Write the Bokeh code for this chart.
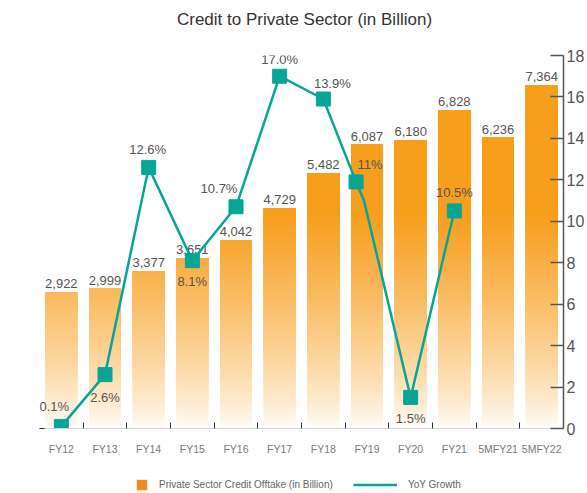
import math
from bokeh.plotting import figure
from bokeh.layouts import column
from bokeh.models import (Range1d, LinearAxis, FixedTicker, ColumnDataSource,
                          Legend, LegendItem)
from bokeh.embed import file_html
from bokeh.resources import INLINE
from bokeh.core.properties import value

# ---------------- data ----------------
title_text = "Credit to Private Sector (in Billion)"
categories = ["FY12", "FY13", "FY14", "FY15", "FY16", "FY17", "FY18", "FY19",
              "FY20", "FY21", "5MFY21", "5MFY22"]
credit = [2922, 2999, 3377, 3651, 4042, 4729, 5482, 6087, 6180, 6828, 6236, 7364]
credit_labels = ["2,922", "2,999", "3,377", "3,651", "4,042", "4,729", "5,482",
                 "6,087", "6,180", "6,828", "6,236", "7,364"]

yoy_categories = ["FY12", "FY13", "FY14", "FY15", "FY16", "FY17", "FY18", "FY19",
                  "FY20", "FY21"]
yoy_values = [0.1, 2.6, 12.6, 8.1, 10.7, 17.0, 15.9, 11.9, 1.5, 10.5]
yoy_labels = ["0.1%", "2.6%", "12.6%", "8.1%", "10.7%", "17.0%", "13.9%", "11%",
              "1.5%", "10.5%"]
yoy_shift = [0, 0, 0, 0, 0, 0, 0, -0.25, 0, 0]
# extra bend of the drawn line just after the FY19 point
bend_category = "FY19"
bend_shift = -0.07
bend_value = 11.0

legend_labels = ["Private Sector Credit Offtake (in Billion)", "YoY Growth"]

# ---------------- styles ----------------
FONT = "Liberation Sans"
ORANGE = (247, 158, 29)
LEGEND_ORANGE = "#F58A1F"
TEAL = "#07A595"
TXT = "#555555"
label_dx = [-7, 0, -1, 0, -17, 0, 9, 14, 0, 0]
label_dy = [-20, 23, -18, 21, -18, -17, -16, -17, 21, -18]

idx = {c: i for i, c in enumerate(categories)}


def shade(level):
    f = min(1.0, max(0.0, level / 4600.0)) ** 0.75
    r = round(255 + (ORANGE[0] - 255) * f)
    g = round(255 + (ORANGE[1] - 255) * f)
    b = round(255 + (ORANGE[2] - 255) * f)
    return "#%02x%02x%02x" % (r, g, b)


def strip(h):
    f = figure(width=587, height=h, x_range=Range1d(0, 1), y_range=Range1d(0, 1),
               output_backend="svg", toolbar_location=None,
               x_axis_location=None, y_axis_location=None,
               min_border_left=0, min_border_right=0, min_border_top=0,
               min_border_bottom=0)
    f.outline_line_color = None
    f.grid.visible = False
    return f


# ---------------- title strip ----------------
tf = strip(36)
tf.text(x=[0.5], y=[0.47], text=[title_text], x_offset=3,
        text_font=value(FONT), text_font_size=value("17px"), text_color="#333333",
        text_align="center", text_baseline="middle")

# ---------------- main plot ----------------
p = figure(width=587, height=429, x_range=Range1d(-0.5, 11.5),
           y_range=Range1d(0, 8000), output_backend="svg", toolbar_location=None,
           x_axis_location=None, y_axis_location=None,
           min_border_left=39, min_border_right=10, min_border_top=19,
           min_border_bottom=37)
p.extra_y_ranges = {"pct": Range1d(0, 18)}
p.outline_line_color = None
p.background_fill_color = "white"
p.border_fill_color = "white"
p.grid.visible = False
p.title = None

# gradient bars
BW = 0.73
step = 80
L, R, B, T, C = [], [], [], [], []
for i, v in enumerate(credit):
    n = math.ceil(v / step)
    for k in range(n):
        bot = k * step
        L.append(i - BW / 2)
        R.append(i + BW / 2)
        B.append(bot)
        T.append(v)
        C.append(shade(bot + step / 2))
p.quad(left="left", right="right", bottom="bottom", top="top", fill_color="color",
       line_color=None,
       source=ColumnDataSource(dict(left=L, right=R, bottom=B, top=T, color=C)))

# bar value labels
p.text(x=list(range(len(credit))), y=credit, text=credit_labels,
       text_font=value(FONT), text_font_size=value("13px"), text_color=TXT,
       text_align="center", text_baseline="bottom", y_offset=-4)

# YoY line
mx = [idx[c] + s for c, s in zip(yoy_categories, yoy_shift)]
lx, ly = [], []
for c, xx, yy in zip(yoy_categories, mx, yoy_values):
    lx.append(xx)
    ly.append(yy)
    if c == bend_category:
        lx.append(idx[bend_category] + bend_shift)
        ly.append(bend_value)
p.line(lx, ly, line_color=TEAL, line_width=2.5, y_range_name="pct")
p.scatter(mx, yoy_values, marker="square", size=14, fill_color=TEAL,
          line_color=TEAL, y_range_name="pct")
p.text(x="x", y="y", text="t", x_offset="dx", y_offset="dy",
       source=ColumnDataSource(dict(x=mx, y=yoy_values, t=yoy_labels,
                                    dx=label_dx, dy=label_dy)),
       text_font=value(FONT), text_font_size=value("13px"), text_color=TXT,
       text_align="center", text_baseline="middle", y_range_name="pct")

# axes
xaxis = LinearAxis(
    ticker=FixedTicker(ticks=list(range(len(categories))),
                       minor_ticks=[i + 0.5 for i in range(len(categories) - 1)]),
    major_label_overrides={i: c for i, c in enumerate(categories)},
    major_tick_in=0, major_tick_out=0,
    minor_tick_in=6, minor_tick_out=0, minor_tick_line_color="#333333",
    axis_line_color="#d6d6d6", axis_line_width=1,
    major_label_text_font=FONT, major_label_text_font_size="10.5px",
    major_label_text_color="#7a7a7a", major_label_standoff=14)
p.add_layout(xaxis, "below")

laxis = LinearAxis(ticker=FixedTicker(ticks=[0], minor_ticks=[]),
                   major_tick_in=5, major_tick_out=0,
                   major_tick_line_color="#333333",
                   axis_line_color=None, major_label_overrides={0: ""},
                   major_label_standoff=0, major_label_text_font_size="1px")
p.add_layout(laxis, "left")

raxis = LinearAxis(y_range_name="pct",
                   ticker=FixedTicker(ticks=list(range(0, 19, 2)), minor_ticks=[]),
                   major_tick_in=13, major_tick_out=0,
                   major_tick_line_color="#555555", major_tick_line_width=1.5,
                   axis_line_color="#555555", axis_line_width=1.5,
                   major_label_text_font=FONT, major_label_text_font_size="16px",
                   major_label_text_color=TXT, major_label_standoff=3)
p.add_layout(raxis, "right")

# ---------------- legend strip (swatch proxies sit outside its ranges) ----------------
lg = strip(28)
proxy_bar = lg.quad(left=[-3], right=[-2], bottom=[-3], top=[-2],
                    fill_color=LEGEND_ORANGE, line_color=None)
proxy_line = lg.line(x=[-3, -2], y=[-3, -3], line_color=TEAL, line_width=2.5)

common = dict(padding=0, margin=0, spacing=0, border_line_color=None,
              background_fill_alpha=0, label_text_font=FONT,
              label_text_font_size="10px", label_text_color="#666666",
              label_standoff=11, label_height=13, glyph_height=13)
leg1 = Legend(items=[LegendItem(label=legend_labels[0], renderers=[proxy_bar])],
              location=(96, 2), glyph_width=13, **common)
leg2 = Legend(items=[LegendItem(label=legend_labels[1], renderers=[proxy_line])],
              location=(314, 2), glyph_width=44, **common)
lg.add_layout(leg1, "center")
lg.add_layout(leg2, "center")

layout = column(tf, p, lg, spacing=0)
open("out.html", "w").write(file_html(layout, INLINE))
